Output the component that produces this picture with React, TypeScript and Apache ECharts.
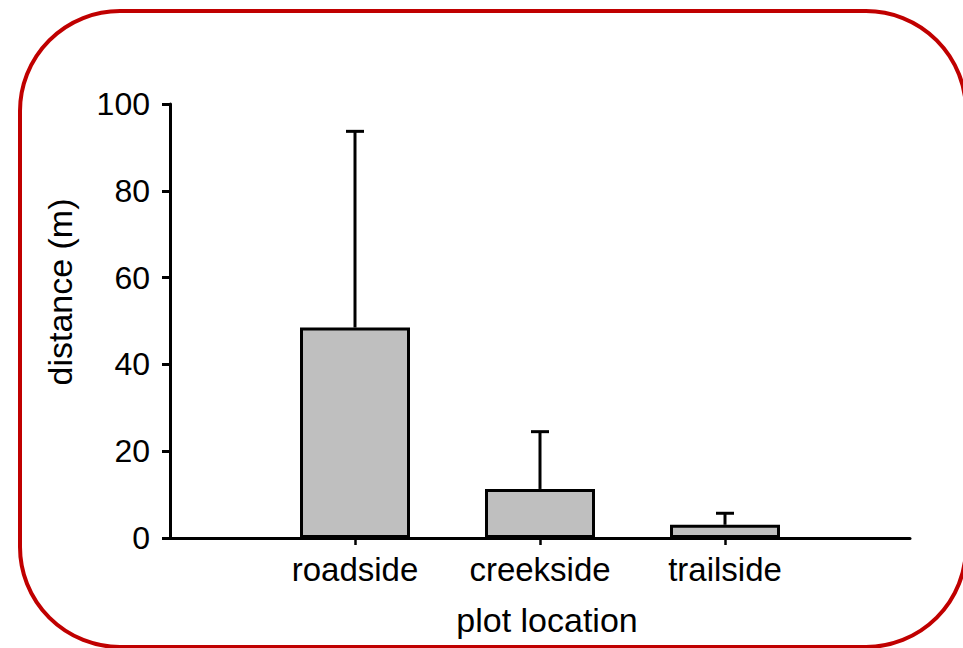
import React, { useEffect, useRef } from "react";
import * as echarts from "echarts";

const categories = ["", "roadside", "creekside", "trailside", ""];
const means = [null, 48.5, 11.3, 3.05, null];
const upperErrors = [null, 93.7, 24.5, 5.7, null];
const yTicks = [0, 20, 40, 60, 80, 100];
const xTitle = "plot location";
const yTitle = "distance (m)";

export default function App() {
  const ref = useRef<HTMLDivElement>(null);
  useEffect(() => {
    if (!ref.current) return;
    const chart = echarts.init(ref.current, null, { renderer: "svg" });
    const font = "'Liberation Sans', Arial, Helvetica, sans-serif";
    const errData = categories
      .map((c, i) => (means[i] == null ? null : [i, means[i], upperErrors[i]]))
      .filter((d) => d != null);
    chart.setOption({
      animation: false,
      backgroundColor: "#ffffff",
      grid: { left: 170, right: 53, top: 104, bottom: 110, containLabel: false },
      xAxis: {
        type: "category",
        data: categories,
        boundaryGap: false,
        axisLine: { lineStyle: { color: "#000", width: 3 } },
        axisTick: {
          show: true,
          length: 7,
          lineStyle: { color: "#000", width: 2.5 },
          interval: (index: number) => index >= 1 && index <= 3,
        },
        axisLabel: {
          interval: 0,
          color: "#000",
          fontFamily: font,
          fontSize: 33,
          margin: 15,
        },
        splitLine: { show: false },
      },
      yAxis: {
        type: "value",
        min: yTicks[0],
        max: yTicks[yTicks.length - 1],
        interval: 20,
        axisLine: { show: true, lineStyle: { color: "#000", width: 3 } },
        axisTick: { show: true, length: 8, lineStyle: { color: "#000", width: 3 } },
        axisLabel: { color: "#000", fontFamily: font, fontSize: 32, margin: 20 },
        splitLine: { show: false },
      },
      graphic: [
        {
          type: "rect",
          shape: { x: 20, y: 11, width: 946, height: 636, r: 100 },
          style: { fill: "none", stroke: "#c00000", lineWidth: 4 },
          z: 10,
        },
        {
          type: "text",
          x: 547,
          y: 620,
          style: {
            text: xTitle,
            fontFamily: font,
            fontSize: 34,
            fill: "#000",
            align: "center",
            verticalAlign: "middle",
          },
        },
        {
          type: "text",
          x: 60,
          y: 292,
          rotation: Math.PI / 2,
          style: {
            text: yTitle,
            fontFamily: font,
            fontSize: 34,
            fill: "#000",
            align: "center",
            verticalAlign: "middle",
          },
        },
      ],
      series: [
        {
          type: "bar",
          data: means,
          barWidth: 110,
          itemStyle: { color: "#bfbfbf", borderColor: "#000", borderWidth: 3 },
          z: 2,
        },
        {
          type: "custom",
          data: errData,
          z: 3,
          renderItem: (params: any, api: any) => {
            const x = api.value(0);
            const lo = api.coord([x, api.value(1)]);
            const hi = api.coord([x, api.value(2)]);
            const cap = 9;
            return {
              type: "group",
              children: [
                {
                  type: "line",
                  shape: { x1: lo[0], y1: lo[1], x2: hi[0], y2: hi[1] },
                  style: { stroke: "#000", lineWidth: 3 },
                },
                {
                  type: "line",
                  shape: { x1: hi[0] - cap, y1: hi[1], x2: hi[0] + cap, y2: hi[1] },
                  style: { stroke: "#000", lineWidth: 3 },
                },
              ],
            };
          },
        },
      ],
    });
    return () => chart.dispose();
  }, []);
  return (
    <div
      ref={ref}
      style={{ position: "fixed", left: 0, top: 0, width: 963, height: 648 }}
    />
  );
}
